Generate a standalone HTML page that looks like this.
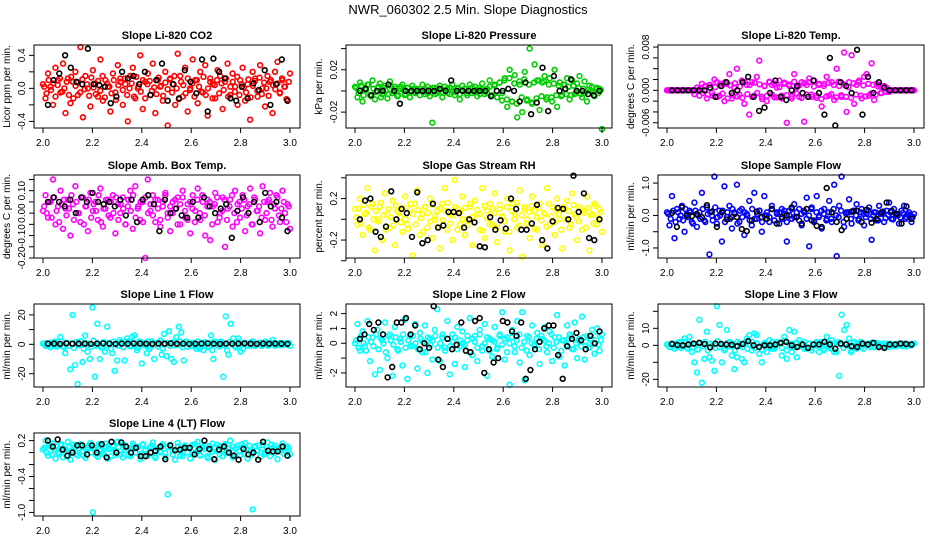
<!DOCTYPE html>
<html><head><meta charset="utf-8"><style>
html,body{margin:0;padding:0;background:#fff;}
svg{display:block;font-family:"Liberation Sans",sans-serif;}
</style></head><body>
<svg id="chart" width="936" height="540" viewBox="0 0 936 540" xmlns="http://www.w3.org/2000/svg">
<text x="468" y="14" text-anchor="middle" font-size="13">NWR_060302  2.5 Min. Slope Diagnostics</text>
</svg>
<script>
const xTicks = [2.0, 2.2, 2.4, 2.6, 2.8, 3.0];
const xTickLabels = ["2.0","2.2","2.4","2.6","2.8","3.0"];

const co2Color = [0.05,-0.12,0.18,0.02,-0.2,0.25,0.1,-0.05,0.3,-0.3,0.12,-0.18,0.08,0.2,-0.08,0.5,-0.35,0.15,0.0,-0.22,0.22,0.06,-0.1,0.35,-0.15,0.1,0.02,-0.28,0.18,-0.05,0.28,0.12,-0.2,0.05,-0.4,0.15,0.25,-0.12,0.0,0.4,-0.25,0.08,0.18,-0.08,0.3,-0.3,0.1,0.02,-0.15,0.2,-0.45,0.12,0.05,-0.2,0.42,0.15,-0.1,0.25,-0.28,0.0,0.35,0.1,-0.18,0.2,-0.05,0.28,-0.33,0.12,0.05,-0.12,0.22,0.15,-0.25,0.08,0.3,-0.08,0.18,0.02,-0.2,0.1,0.25,-0.15,0.05,-0.38,0.2,0.12,-0.1,0.28,0.0,-0.22,0.15,0.08,-0.3,0.2,0.32,-0.05,0.1,0.02,-0.15,0.18];
const co2Core = [0.02,-0.06,0.1,-0.02,0.06,-0.1,0.04,0.12,-0.04,0.0,0.08,-0.08,0.14,-0.12,0.03,0.07,-0.05,0.11,-0.01,0.05,-0.09,0.13,0.01,-0.07,0.09,-0.03,0.15,-0.11,0.06,0.02,-0.06,0.1,-0.14,0.04,0.08,-0.02,0.12,-0.08,0.0,0.06,-0.1,0.14,0.02,-0.04,0.1,-0.12,0.05,0.09,-0.03,0.01,-0.07,0.13,0.03,-0.09,0.07,-0.01,0.11,-0.05,0.15,0.0,-0.13,0.08,0.04,-0.06,0.12,-0.02,0.06,-0.1,0.1,0.02,-0.04,0.14,-0.08,0.0,0.08,-0.12,0.04,0.1,-0.06,0.06,-0.02,0.12,-0.1,0.02,0.08,-0.04,0.14,-0.08,0.05,0.01,-0.05,0.11,-0.11,0.03,0.09,-0.03,0.13,-0.07,0.07,0.0,-0.09,0.1,0.04,-0.01,0.06,-0.06,0.12,0.02,-0.13,0.08];
const co2Black = [-0.2,0.1,0.18,0.4,0.25,0.08,0.05,0.48,0.05,0.04,0.02,-0.18,-0.1,0.2,0.12,0.15,0.05,0.2,-0.08,0.1,0.3,-0.15,0.05,-0.12,0.22,0.08,-0.06,0.35,-0.28,0.36,0.2,0.12,-0.12,-0.15,0.02,-0.12,0.06,-0.02,0.22,-0.2,0.05,0.35,-0.15];

const presColor = [0.004,-0.006,0.008,-0.01,0.002,0.006,-0.004,0.01,-0.008,0.003,0.007,-0.003,0.005,-0.007,0.009,-0.002,0.004,-0.005,0.002,0.006,-0.004,0.003,-0.006,0.005,-0.001,0.002,-0.004,0.006,-0.003,0.004,-0.005,-0.03,0.003,-0.002,0.005,-0.006,0.004,0.002,-0.003,0.006,-0.004,0.003,-0.008,0.005,0.002,-0.004,0.006,-0.002,0.004,-0.005,0.003,0.007,-0.003,0.002,0.01,-0.004,0.005,-0.006,0.008,-0.002,0.012,-0.015,0.02,-0.01,0.015,-0.025,0.006,-0.02,0.018,-0.008,0.04,-0.012,0.025,0.01,-0.018,0.008,0.014,-0.006,0.012,-0.01,0.02,-0.015,0.008,-0.004,0.006,0.012,-0.008,0.01,-0.003,0.007,0.014,-0.006,0.009,-0.01,0.005,0.004,-0.005,0.003,0.002,-0.036];
const presCore = [0.003,-0.002,0.005,-0.004,0.001,0.006,-0.005,0.002,-0.001,0.004,-0.006,0.003,0.0,-0.003,0.005,-0.002,0.002,-0.004,0.004,0.001,-0.003,0.003,-0.001,0.002,-0.002,0.001,0.0,-0.001,0.002,-0.002,0.001,0.003,-0.003,0.0,0.002,-0.001,0.001,-0.002,0.003,0.0,-0.001,0.002,-0.003,0.001,0.002,-0.002,0.0,0.003,-0.001,0.001,-0.003,0.002,0.0,-0.002,0.004,-0.004,0.006,-0.006,0.008,-0.009,0.01,-0.008,0.012,-0.01,0.007,-0.012,0.009,-0.006,0.011,-0.009,0.006,-0.011,0.008,-0.007,0.01,-0.005,0.009,-0.008,0.006,-0.006,0.007,-0.004,0.005,-0.005,0.006,-0.003,0.004,-0.004,0.005,-0.002,0.003,-0.003,0.002,-0.001,0.001,0.0,-0.001,0.002,-0.002,0.001];
const presBlack = [0,0.002,-0.004,0,0,0.006,0,-0.012,0,0,0,0,0,0,0.002,0,0.01,0,0,0,0,0,0,-0.005,0,0,0.002,0,-0.01,0.008,-0.022,-0.011,0.022,-0.019,0.014,0,0.002,0.011,0,0,-0.003,-0.004,0];

const tempColor = [0,0,0,0,0,0,0,0,0,0,0,-0.0007,0.0005,-0.001,0.0012,0.0007,-0.0015,0.001,-0.0005,0.002,0.0015,-0.001,0.0008,-0.002,0.0012,0.003,-0.0015,0.0005,0.004,-0.0008,0.0018,-0.0025,0.001,-0.0045,0.0015,-0.001,0.0025,0.0055,-0.0012,0.0008,-0.002,0.0016,0.001,-0.0013,0.0005,0.0018,-0.001,0.0012,-0.006,0.0008,-0.0015,0.003,0.0005,-0.0012,0.0015,-0.0058,0.001,0.0022,-0.0008,0.0018,-0.0014,0.001,-0.003,0.0012,0.0025,-0.001,0.0015,-0.0018,0.004,0.0008,-0.0012,0.007,-0.004,0.0015,0.0065,-0.0025,0.001,0.0018,-0.0015,0.0025,0.003,-0.001,0.005,-0.0018,0.0012,0.001,-0.0005,0.0008,0.0005,-0.0003,0,0,0,0,0,0,0,0,0,0];
const tempCore = [0,0,0,0,0,0,0,0,0,0,0,0,0,0.0003,-0.0005,0.0008,-0.0008,0.001,-0.001,0.0006,-0.0012,0.0012,-0.0006,0.0015,-0.0015,0.0009,-0.0009,0.0013,-0.0011,0.0007,-0.0014,0.0016,-0.0007,0.001,-0.0012,0.0014,-0.0005,0.0011,-0.0016,0.0008,-0.001,0.0015,-0.0008,0.0012,-0.0013,0.0006,-0.0015,0.0014,-0.0009,0.0011,-0.0011,0.0016,-0.0006,0.0009,-0.0014,0.0013,-0.0008,0.0015,-0.0012,0.0007,-0.001,0.0012,-0.0016,0.0008,-0.0011,0.0014,-0.0007,0.001,-0.0013,0.0016,-0.0009,0.0011,-0.0012,0.0006,-0.0014,0.0013,-0.0008,0.0015,-0.001,0.0009,-0.0011,0.0012,-0.0006,0.001,-0.0008,0.0007,-0.0005,0.0004,-0.0003,0,0,0,0,0,0,0,0,0,0,0];
const tempBlack = [0,0,0,0,0,0,0,0.0005,-0.0012,0.0008,0.0015,-0.0005,0,0.0015,0.0025,-0.0012,-0.0038,-0.0032,-0.0005,0.0018,-0.0012,-0.0018,0,0.0008,-0.0005,-0.0012,0.0018,-0.0005,-0.0045,0.006,-0.0065,0.0015,0.0008,-0.0005,0.0075,-0.0045,0.0025,-0.0005,0.0015,0.0005,0,0,0,0,0];

const ambColor = [0.01,0.08,-0.02,0.05,0.15,-0.05,0.03,0.1,-0.07,0.02,0.06,-0.1,0.04,0.12,0.0,-0.04,0.07,0.03,-0.08,0.09,0.01,0.05,-0.03,0.11,-0.06,0.02,0.06,-0.02,0.08,-0.09,0.04,0.0,0.07,-0.05,0.03,0.1,-0.07,0.12,0.02,-0.03,0.05,-0.2,0.15,0.01,0.08,-0.04,0.06,-0.06,0.03,0.09,0.0,-0.08,0.05,0.02,0.07,-0.05,0.1,-0.02,0.04,-0.09,0.08,0.01,0.11,-0.03,0.05,-0.1,0.06,-0.12,0.03,0.09,-0.04,0.0,0.07,-0.15,0.02,0.06,-0.06,0.1,0.04,-0.02,0.08,-0.08,0.03,0.11,-0.05,0.06,0.01,-0.09,0.12,-0.03,0.05,0.09,-0.06,0.02,0.07,-0.04,0.1,0.0,0.04,-0.07];
const ambCore = [0.03,0.0,0.05,-0.02,0.07,0.01,-0.04,0.04,0.06,-0.01,0.02,0.08,-0.03,0.05,0.0,0.07,-0.05,0.03,0.06,-0.02,0.04,0.01,0.08,-0.04,0.02,0.06,-0.01,0.05,0.0,0.07,-0.03,0.04,0.02,-0.05,0.06,0.01,0.08,-0.02,0.03,0.05,-0.04,0.07,0.0,0.04,-0.01,0.06,0.02,-0.03,0.05,0.08,-0.02,0.03,0.0,0.06,-0.05,0.04,0.07,0.01,-0.03,0.05,0.02,-0.04,0.06,0.0,0.08,-0.01,0.03,0.05,-0.05,0.04,0.07,-0.02,0.01,0.06,-0.03,0.03,0.08,0.0,-0.04,0.05,0.02,0.06,-0.01,0.04,-0.05,0.07,0.01,0.03,-0.02,0.05,0.0,0.06,-0.03,0.04,0.08,-0.01,0.02,0.05,-0.04,0.03];
const ambBlack = [0.05,0.07,0.05,0.03,0.06,0.0,0.07,0.05,0.09,0.05,0.04,0.05,0.03,0.06,-0.01,0.06,-0.04,0.06,0.08,0.04,-0.08,0.06,0.0,0.02,-0.01,-0.02,0.05,-0.02,0.07,0.03,0.0,0.02,0.04,-0.11,0.01,0.07,0.0,0.05,-0.04,0.09,0.03,0.05,-0.02,-0.08];

const rhColor = [0.1,-0.05,0.2,-0.15,0.05,0.3,-0.1,0.15,-0.3,0.0,0.12,-0.2,0.25,0.05,-0.08,0.18,-0.25,0.08,0.02,-0.12,0.22,-0.05,0.1,-0.35,0.15,0.28,-0.15,0.05,0.12,-0.08,0.2,-0.18,0.0,0.08,-0.28,0.15,0.3,-0.1,0.05,-0.2,0.38,0.1,-0.05,0.22,-0.15,0.0,0.12,-0.25,0.18,0.05,-0.1,0.3,-0.18,0.08,0.15,-0.05,0.25,-0.22,0.1,0.02,-0.12,0.2,-0.3,0.15,0.05,-0.08,0.28,-0.36,0.12,0.0,-0.18,0.22,0.08,-0.1,0.15,-0.25,0.05,0.3,-0.05,0.12,-0.15,0.2,0.0,-0.28,0.1,0.18,-0.08,0.25,0.05,-0.2,0.12,-0.1,0.08,0.22,-0.3,0.05,0.15,-0.05,0.1,-0.12];
const rhCore = [0.02,0.1,-0.04,0.14,0.06,-0.08,0.12,0.0,0.08,-0.02,0.16,0.04,-0.1,0.1,0.02,-0.06,0.13,0.07,-0.03,0.11,0.0,-0.09,0.15,0.05,-0.05,0.09,0.01,-0.12,0.12,0.06,-0.02,0.14,0.03,-0.07,0.1,-0.01,0.08,0.16,-0.04,0.04,0.12,-0.1,0.07,0.0,0.11,-0.06,0.15,0.02,-0.03,0.09,0.05,-0.11,0.13,0.01,-0.05,0.1,0.06,-0.08,0.14,0.03,-0.02,0.12,-0.12,0.08,0.0,0.16,-0.06,0.04,0.1,-0.04,0.07,0.13,-0.09,0.02,0.11,-0.01,0.06,-0.07,0.15,0.03,-0.03,0.09,0.05,-0.1,0.12,0.0,0.08,-0.05,0.14,0.02,-0.02,0.1,0.06,-0.08,0.11,0.04,-0.04,0.13,0.01,0.07];
const rhBlack = [0.0,0.18,0.2,-0.12,-0.17,-0.07,0.27,0.0,0.1,0.06,-0.17,0.26,-0.23,-0.2,0.15,-0.08,-0.06,0.07,0.07,0.06,-0.08,0.0,-0.03,-0.26,-0.27,0.02,-0.1,-0.01,-0.09,0.2,0.1,-0.1,-0.1,-0.04,0.14,-0.2,-0.28,-0.02,0.11,0.1,0.0,0.42,0.07,0.25,-0.18,-0.2,0.0];

const sampleColor = [0.1,-0.3,0.6,-0.7,0.2,-0.1,0.3,-0.5,0.05,0.15,-0.2,0.4,-0.35,0.1,0.7,-0.15,0.25,-1.2,0.0,1.2,-0.25,0.15,-0.8,0.9,-0.05,0.3,-0.4,0.1,0.95,-0.2,0.2,-0.6,0.05,0.45,-0.3,0.7,-0.1,0.15,-0.5,0.6,0.0,-0.2,0.3,-0.15,0.1,-0.25,0.2,0.05,-0.8,0.15,-0.1,0.35,-0.05,0.2,-0.3,0.1,0.55,-0.95,0.25,-0.15,0.6,0.0,-0.4,0.2,-0.1,0.45,-0.2,0.95,-1.25,0.3,1.2,-0.35,0.1,0.5,-0.25,0.15,0.35,-0.1,0.2,-0.3,0.05,0.25,-0.75,0.1,-0.15,0.3,0.05,-0.2,0.15,0.4,-0.1,0.2,0.0,-0.25,0.15,0.3,-0.05,0.1,-0.2,0.05];
const sampleCore = [0.05,-0.1,0.15,-0.2,0.1,0.0,-0.15,0.2,-0.05,0.1,-0.25,0.15,0.0,-0.1,0.2,-0.2,0.05,0.1,-0.15,0.25,-0.05,0.0,0.15,-0.2,0.1,-0.1,0.2,0.05,-0.25,0.15,-0.05,0.1,0.0,-0.15,0.2,-0.1,0.05,0.15,-0.2,0.0,0.1,-0.05,0.2,-0.15,0.05,0.1,-0.1,0.15,-0.2,0.0,0.2,-0.05,0.1,-0.15,0.05,0.15,-0.1,0.0,0.2,-0.2,0.1,-0.05,0.15,0.05,-0.15,0.1,-0.1,0.2,0.0,-0.05,0.15,-0.2,0.05,0.1,-0.1,0.15,0.0,-0.15,0.1,0.05,-0.05,0.15,-0.1,0.0,0.1,-0.15,0.05,0.12,-0.08,0.02,0.1,-0.12,0.06,0.0,-0.06,0.08,-0.1,0.04,0.02,-0.04];
const sampleBlack = [0.08,-0.35,0.25,0.0,-0.02,0.05,-0.05,0.32,0.12,-0.35,0.1,-0.12,-0.05,-0.05,-0.42,-0.48,-0.15,0.12,-0.05,-0.1,0.2,-0.25,-0.05,0.0,0.25,-0.05,-0.25,0.2,-0.15,-0.32,-0.35,0.85,0.1,-0.2,-0.45,-0.1,0.12,0.15,-0.2,0.18,-0.22,-0.1,0.1,0.4,0.15,0.05,-0.25,0.28,-0.1];

const line1Color = [0.5,-1,1,-2,0.3,2,-0.5,5,-1.5,-6,1,-17,20,-14,-27,2,-12,6,-5,-10,25,-22,14,-10,-2,-5,12,1,-6,-18,-11,3,1,-11,4,-1,5,6,-4,2,-13,1,-6,-3,2,-10,0.5,1,-7,7,-8,9,-10,-12,5,12,8,-11,2,0.5,-1,1,-3,-2,1,-4,0.5,-1.5,6,-10,0.5,-1,2,-22,19,-7,14,4,-2,4,-5,-3,1,0.5,-1,2,-1,0.5,1,-0.5,2,-1,0.5,3,-1,0.5,1,-0.5,0,1,-1];
const line1Core = [0.5,-1,1,-0.5,1.5,-1.5,0,2,-2,1,-1,0.5,-2.5,1.5,-0.5,2,-3,1,0,-1.5,2.5,-1,0.5,-2,1.5,-0.5,1,-3,2,0,-1,1.5,-2,0.5,2,-1.5,1,-0.5,-2.5,1.5,0,-1,2,-2,0.5,1,-1.5,2.5,-3,0.5,1,-1,1.5,-0.5,0,2,-2,1,-1.5,0.5,1,-1,2,-3,0.5,1.5,-2,1,-4,2,0.5,-1.5,1,-0.5,-4,1.5,0,-1,2,-2,0.5,1,-1,0.5,1.5,-0.5,0,1,-1,0.5,1,-0.5,0.5,1,0,-0.5,1,0.5,0,1];
const line1Black = [0.4,0.5,0.3,0.6,0.4,0.5,0.4,0.3,0.5,0.6,0.4,0.3,0.5,0.4,0.6,0.5,0.4,0.3,0.5,0.4,0.6,0.4,0.5,0.3,0.4,0.5,0.6,0.4,0.3,0.5,0.4,0.5,0.6,0.4,0.3,0.5,0.4,0.5,0.4,0.3];

const line2Color = [0,1.3,-0.5,0.8,-0.2,1.5,-1.2,0.4,-2.1,0.9,-1.8,0.2,1.4,-1,0.6,-2.2,1.1,-0.4,0.3,-1.5,1.6,-2.4,0.5,-0.2,1.3,-1.7,0.7,-0.6,1.2,-2,0.3,-1.1,0.9,2.3,-1.2,0.4,-0.3,1.5,-2.1,0.6,-1.4,1.1,-0.2,0.8,-1.6,0.2,1.7,-0.8,0.5,-1.2,0.9,-0.5,1.3,-2.2,0.3,-0.9,1.1,-0.3,0.6,2.1,-1.1,0.4,-2.8,0.9,-0.6,1.5,-1.3,2.1,-2.5,0.5,-0.8,1.2,-0.2,0.7,-1.4,0.3,1.1,-0.6,0.8,-1.2,0.4,1.9,-0.9,0.2,-1.5,1.2,0.6,-0.4,1.4,-1,0.3,1.8,-1.1,0.5,-0.3,0.9,-0.7,1,-0.5,0.6];
const line2Core = [0.2,-0.3,0.5,0.0,-0.5,0.4,0.1,-0.2,0.6,-0.4,0.3,0.0,-0.6,0.5,0.2,-0.1,0.4,-0.5,0.1,0.6,-0.3,0.2,-0.2,0.5,0.0,-0.4,0.3,0.1,-0.6,0.4,-0.1,0.2,0.5,-0.3,0.0,0.6,-0.5,0.3,-0.2,0.1,0.4,-0.4,0.2,0.0,-0.1,0.5,-0.6,0.3,0.1,-0.3,0.6,-0.2,0.0,0.4,-0.5,0.2,0.1,-0.4,0.5,-0.1,0.3,-0.6,0.0,0.4,-0.2,0.2,0.6,-0.3,0.1,-0.5,0.4,0.0,-0.1,0.3,-0.4,0.5,0.2,-0.2,0.0,0.6,-0.3,0.1,0.4,-0.5,0.2,-0.1,0.3,0.5,-0.4,0.0,0.2,-0.2,0.4,0.1,-0.3,0.3,0.0,0.5,-0.1,0.2];
const line2Black = [0.3,0.6,1.3,0.9,1.4,0.6,-2.3,-1.6,1.4,1.4,1.7,0.6,1.2,-0.4,0,-0.3,2.5,-1.1,-1.6,0.3,-0.4,-0.1,1.4,-0.5,-0.6,1.5,1.7,-2,-0.4,-1.3,-1,1.5,1.4,0.8,0.5,1.4,-2.4,-1.8,-0.4,0.1,1,1.2,1.2,-0.8,-2.4,-0.2,0.3,0.7,0.2,-0.4,0.5,0,0.8];

const line3Color = [0.5,-1,1,-2,0.3,2,-0.5,4,-1.5,5,-4,-10,-16,15,-22,-8,8,-7,-9,-15,23,12,-10,-3,9,2,-6,-14,-7,1,-8,-10,4,6,-3,7,6,-5,-10,1,-4,3,-2,-1,2,1,-6,5,-8,9,-4,8,-7,3,1,-2,-1,1,-3,0.5,2,-4,1,-2,5,-1,3,-4,1,-18,18,9,12,4,-3,2,-2,1,-1,0.5,1,-0.5,1.5,-1,0.5,1,-0.5,0,1,-1,0.5,0.5,-0.5,1,0,1,-0.5,0.5,0,1];
const line3Core = [0.5,-1,1,-0.5,1.5,-1.5,0,2,-2,1,-1,0.5,-2.5,1.5,-0.5,2,-3,1,0,-1.5,2.5,-1,0.5,-2,1.5,-0.5,1,-3,2,0,-1,1.5,-2,0.5,2,-1.5,1,-0.5,-2.5,1.5,0,-1,2,-2,0.5,1,-1.5,2.5,-3,0.5,1,-1,1.5,-0.5,0,2,-2,1,-1.5,0.5,1,-1,2,-3,0.5,1.5,-2,1,-4,2,0.5,-1.5,1,-0.5,-4,1.5,0,-1,2,-2,0.5,1,-1,0.5,1.5,-0.5,0,1,-1,0.5,1,-0.5,0.5,1,0,-0.5,1,0.5,0,1];
const line3Black = [0.8,0.2,0,0.5,1,1.5,0.8,-1.2,1,0.8,0.5,0.3,-0.5,0.8,2.5,0,-1,0,0,0.5,1.5,2,0,-1,0.5,-1.5,0.5,0.5,2,0.5,-2,1,0.5,-0.5,-1,1,0.5,1.5,-1,-1.5,0.5,0.5,1,0.8,0.5];

const line4Color = [0.05,0.2,-0.05,0.1,0.15,-0.1,0.0,0.12,-0.08,0.06,0.18,-0.12,0.03,0.1,-0.05,0.14,0.02,-0.09,0.08,0.16,-1.0,0.05,-0.07,0.12,0.0,0.15,-0.1,0.06,0.1,-0.04,0.18,0.02,-0.08,0.12,0.05,-0.06,0.15,0.0,0.09,-0.11,0.13,0.03,-0.05,0.1,0.17,-0.09,0.06,0.01,0.14,-0.07,-0.7,0.11,0.04,-0.12,0.16,0.02,-0.06,0.1,0.07,-0.1,0.13,0.0,0.18,-0.05,0.08,0.12,-0.09,0.05,0.15,-0.12,0.03,0.1,-0.06,0.14,0.01,0.2,-0.08,0.06,0.12,-0.04,0.09,0.16,-0.1,0.02,-0.95,0.11,0.04,-0.07,0.13,0.0,0.17,-0.06,0.08,0.12,-0.11,0.05,0.15,0.02,0.1,-0.03];
const line4Core = [0.08,0.0,0.12,-0.04,0.06,0.1,-0.02,0.14,0.04,-0.06,0.09,0.02,0.13,-0.03,0.07,0.11,-0.05,0.05,0.12,0.0,0.08,-0.04,0.14,0.03,-0.02,0.1,0.06,-0.06,0.12,0.01,0.09,-0.03,0.13,0.04,-0.05,0.07,0.11,0.0,0.1,-0.02,0.14,0.05,-0.04,0.08,0.12,-0.06,0.06,0.02,0.11,-0.01,0.09,0.13,-0.03,0.04,0.1,-0.05,0.07,0.12,0.0,0.08,-0.02,0.14,0.03,-0.04,0.1,0.06,-0.06,0.11,0.01,0.09,0.13,-0.03,0.05,0.12,-0.01,0.07,0.1,-0.05,0.08,0.02,0.14,-0.02,0.06,0.11,-0.04,0.09,0.03,0.12,0.0,-0.03,0.1,0.05,0.13,-0.01,0.07,0.04,0.11,-0.02,0.08,0.06];
const line4Black = [0.2,0.1,0.22,0.05,-0.05,0.0,0.12,0.12,-0.03,0.12,0.0,0.14,-0.08,0.18,0.0,0.17,0.1,0.0,0.08,-0.06,-0.06,0.0,0.03,0.1,-0.11,0.12,0.04,0.05,0.08,0.08,-0.03,0.06,0.2,0.06,-0.11,0.05,0.1,0.0,-0.05,-0.12,0.06,-0.03,0.0,-0.12,0.18,0.03,0.02,0.02,0.1,-0.05];

const co2Ticks=[-0.4,-0.2,0,0.2,0.4], co2Labels=["-0.4","","0.0","","0.4"];
const presTicks=[-0.02,0,0.02,0.04], presLabels=["-0.02","","0.02",""];
const tempTicks=[-0.006,-0.004,-0.002,0,0.002,0.004,0.006,0.008], tempLabels=["-0.006","","","0.000","","","","0.008"];
const ambTicks=[-0.2,-0.15,-0.1,-0.05,0,0.05,0.1,0.15], ambLabels=["-0.20","","-0.10","","0.00","","0.10",""];
const rhTicks=[-0.4,-0.2,0,0.2,0.4], rhLabels=["","-0.2","","0.2",""];
const sampleTicks=[-1,-0.5,0,0.5,1], sampleLabels=["-1.0","","0.0","","1.0"];
const line1Ticks=[-20,-10,0,10,20], line1Labels=["-20","","0","","20"];
const line2Ticks=[-2,-1,0,1,2], line2Labels=["-2","","0","1","2"];
const line3Ticks=[-20,-10,0,10,20], line3Labels=["-20","","0","10",""];
const line4Ticks=[-1.0,-0.8,-0.6,-0.4,-0.2,0,0.2], line4Labels=["-1.0","","","-0.4","","","0.2"];

const panels = [
 {name:"co2",title:"Slope Li-820 CO2",ylab:"Licor ppm per min.",col:0,row:0,lo:-0.48,hi:0.525,color:"#ff0000",c:co2Color,k:co2Core,b:co2Black,t:co2Ticks,l:co2Labels},
 {name:"pressure",title:"Slope Li-820 Pressure",ylab:"kPa per min.",col:1,row:0,lo:-0.035,hi:0.0434,color:"#00cd00",c:presColor,k:presCore,b:presBlack,t:presTicks,l:presLabels},
 {name:"temp",title:"Slope Li-820 Temp.",ylab:"degrees C per min.",col:2,row:0,lo:-0.00697,hi:0.00838,color:"#ff00ff",c:tempColor,k:tempCore,b:tempBlack,t:tempTicks,l:tempLabels},
 {name:"amb-box-temp",title:"Slope Amb. Box Temp.",ylab:"degrees C per min.",col:0,row:1,lo:-0.2,hi:0.17,color:"#ff00ff",c:ambColor,k:ambCore,b:ambBlack,t:ambTicks,l:ambLabels},
 {name:"gas-stream-rh",title:"Slope Gas Stream RH",ylab:"percent per min.",col:1,row:1,lo:-0.373,hi:0.427,color:"#ffff00",c:rhColor,k:rhCore,b:rhBlack,t:rhTicks,l:rhLabels},
 {name:"sample-flow",title:"Slope Sample Flow",ylab:"ml/min per min.",col:2,row:1,lo:-1.31,hi:1.25,color:"#0000ff",c:sampleColor,k:sampleCore,b:sampleBlack,t:sampleTicks,l:sampleLabels},
 {name:"line1-flow",title:"Slope Line 1 Flow",ylab:"ml/min per min.",col:0,row:2,lo:-29,hi:27.4,color:"#00ffff",c:line1Color,k:line1Core,b:line1Black,t:line1Ticks,l:line1Labels},
 {name:"line2-flow",title:"Slope Line 2 Flow",ylab:"ml/min per min.",col:1,row:2,lo:-2.95,hi:2.65,color:"#00ffff",c:line2Color,k:line2Core,b:line2Black,t:line2Ticks,l:line2Labels},
 {name:"line3-flow",title:"Slope Line 3 Flow",ylab:"ml/min per min.",col:2,row:2,lo:-24.5,hi:24.3,color:"#00ffff",c:line3Color,k:line3Core,b:line3Black,t:line3Ticks,l:line3Labels},
 {name:"line4-flow",title:"Slope Line 4 (LT) Flow",ylab:"ml/min per min.",col:0,row:3,lo:-1.06,hi:0.327,color:"#00ffff",c:line4Color,k:line4Core,b:line4Black,t:line4Ticks,l:line4Labels}
];

const NS="http://www.w3.org/2000/svg";
const svg=document.getElementById("chart");
const LEFTS=[34,346,658], TOPS=[45,175,304,433], W=266, H=83;
function mk(tag,attrs,parent){const e=document.createElementNS(NS,tag);for(const k in attrs)e.setAttribute(k,attrs[k]);parent.appendChild(e);return e;}

panels.forEach(p=>{
  const L=LEFTS[p.col], T=TOPS[p.row];
  const g=mk("g",{},svg);
  
  
  const xs=v=>L+9+(v-2.0)*247;
  const ys=v=>T+H-(v-p.lo)/(p.hi-p.lo)*H;
  const ttl=mk("text",{x:L+W/2,y:T-6,"text-anchor":"middle","font-size":"11","font-weight":"bold"},g);
  ttl.textContent=p.title;
  
  
  const pc=mk("g",{fill:"none",stroke:p.color,"stroke-width":"1.6"},g);
  
  
  p.k.forEach((v,i)=>{
    const c=mk("circle",{cx:xs(2.005+0.99*i/(p.k.length-1)).toFixed(1),cy:ys(v).toFixed(1),r:"2.4"},pc);
    
    
  });
  p.c.forEach((v,i)=>{
    const c=mk("circle",{cx:xs(2+i/(p.c.length-1)).toFixed(1),cy:ys(v).toFixed(1),r:"2.4"},pc);
    
    
  });
  const pb=mk("g",{fill:"none",stroke:"#000","stroke-width":"1.6"},g);
  
  
  p.b.forEach((v,i)=>{
    const c=mk("circle",{cx:xs(2.02+0.97*i/(p.b.length-1)).toFixed(1),cy:ys(v).toFixed(1),r:"2.4"},pb);
    
    
  });
  const box=mk("rect",{x:L,y:T,width:W,height:H,fill:"none",stroke:"#000","stroke-width":"1"},g);
  
  
  const xa=mk("g",{stroke:"#000","stroke-width":"1"},g);
  
  
  mk("line",{x1:xs(2),x2:xs(3),y1:T+H,y2:T+H},xa);
  xTicks.forEach((v,i)=>{
    mk("line",{x1:xs(v),x2:xs(v),y1:T+H,y2:T+H+5},xa);
    const t=mk("text",{x:xs(v),y:T+H+18,"text-anchor":"middle","font-size":"10",stroke:"none"},xa);
    t.textContent=xTickLabels[i];
    
    
  });
  const ya=mk("g",{stroke:"#000","stroke-width":"1"},g);
  
  
  mk("line",{x1:L,x2:L,y1:ys(p.t[0]),y2:ys(p.t[p.t.length-1])},ya);
  p.t.forEach((v,i)=>{
    const y=ys(v);
    mk("line",{x1:L-5,x2:L,y1:y,y2:y},ya);
    if(p.l[i]){
      const t=mk("text",{x:L-9,y:y,"text-anchor":"middle","font-size":"10",stroke:"none",transform:`rotate(-90 ${L-9} ${y})`},ya);
      t.textContent=p.l[i];
      
      
    }
  });
  const yl=mk("text",{x:L-24,y:T+H/2,"text-anchor":"middle","font-size":"10",transform:`rotate(-90 ${L-24} ${T+H/2})`},g);
  yl.textContent=p.ylab;
  
  
});
</script>
</body></html>
